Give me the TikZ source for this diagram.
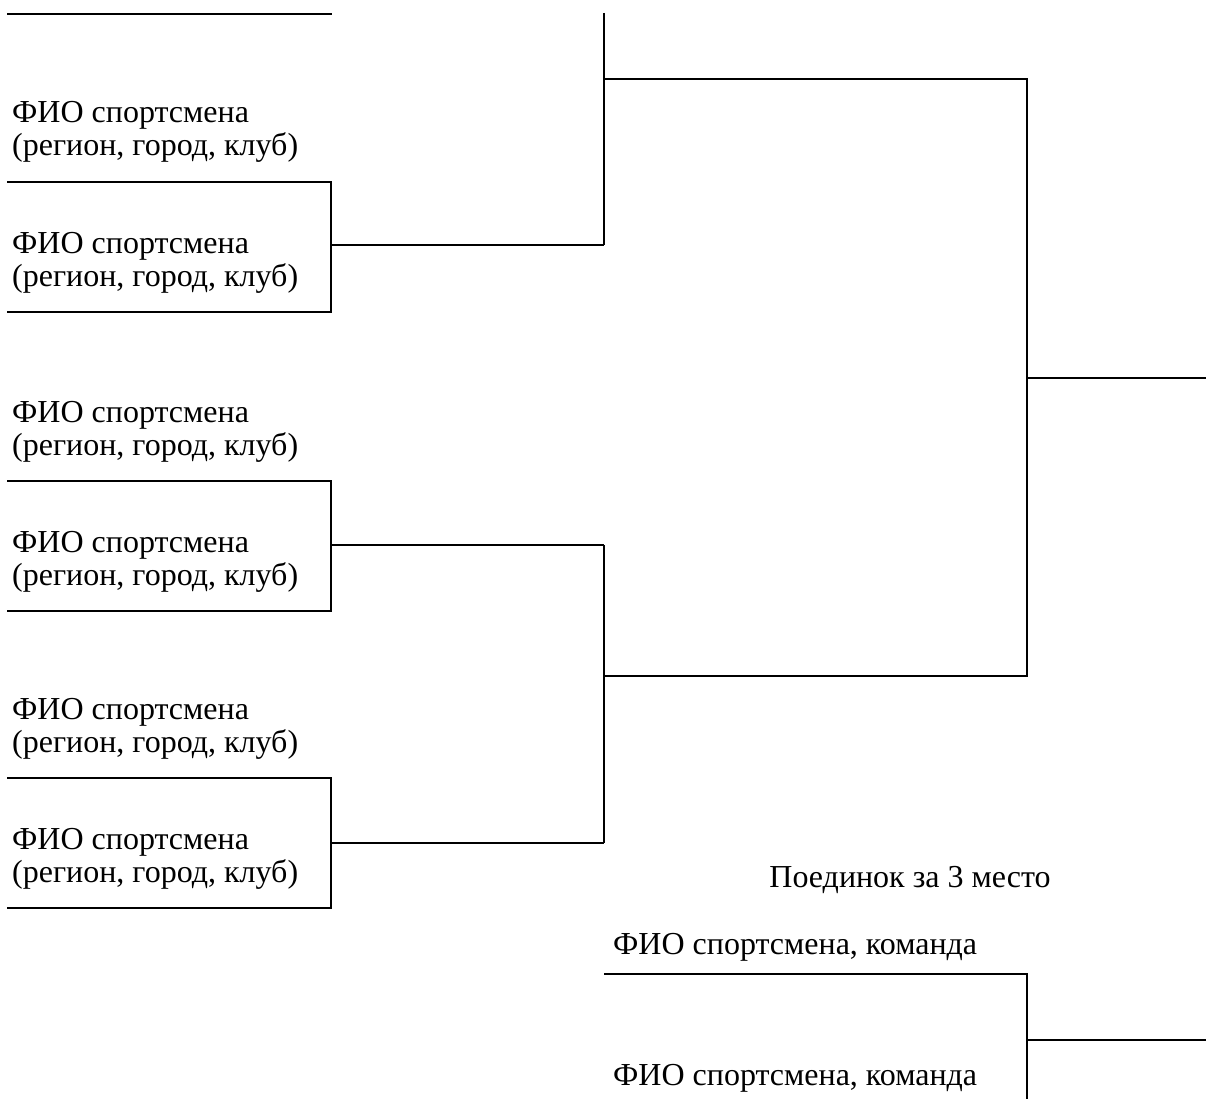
\documentclass[tikz,border=0pt]{standalone}
\usepackage{fontspec}
\setmainfont{Liberation Serif}
\begin{document}
\begin{tikzpicture}[x=1pt,y=-1pt,
  lbl/.style={anchor=base west,inner sep=0pt,font=\fontsize{32}{34}\selectfont},
  ttl/.style={anchor=base,inner sep=0pt,font=\fontsize{32}{34}\selectfont},
  ln/.style={line width=2pt}]
\useasboundingbox (0,0) rectangle (1206,1099);
% names
\foreach \i/\y in {1/123,2/253,3/422,4/552,5/719,6/849}{
  \node[lbl] (n\i) at (12,\y) {ФИО спортсмена};
  \node[lbl] (r\i) at (12,\y+33) {(регион, город, клуб)};
}
% bracket coordinates
\coordinate (t0a) at (7,14);
\coordinate (t0b) at (332,14);
\foreach \k/\a/\b in {1/182/312,2/481/611,3/778/908}{
  \coordinate (a\k) at (7,\a);
  \coordinate (ac\k) at (331,\a);
  \coordinate (b\k) at (7,\b);
  \coordinate (bc\k) at (331,\b);
}
\coordinate (m1) at (331,245);
\coordinate (m2) at (331,545);
\coordinate (m3) at (331,843);
\coordinate (q1) at (604,245);
\coordinate (q2) at (604,545);
\coordinate (q3) at (604,843);
\coordinate (q0) at (604,13);
\coordinate (s1) at (604,79);
\coordinate (s2) at (604,676);
\coordinate (f1) at (1027,79);
\coordinate (f2) at (1027,676);
\coordinate (fm) at (1027,378);
\coordinate (win) at (1206,378);
% lines
\draw[ln] (t0a) -- (t0b);
\foreach \k in {1,2,3}{
  \draw[ln] (a\k) -- (ac\k) -- (bc\k) -- (b\k);
  \draw[ln] (m\k) -- (q\k);
}
\draw[ln] (q0) -- (q1);
\draw[ln] (q2) -- (q3);
\draw[ln] (s1) -- (f1) -- (f2) -- (s2);
\draw[ln] (fm) -- (win);
% third place
\node[ttl] (title) at (910,887) {Поединок за 3 место};
\node[lbl] (p1) at (613,954) {ФИО спортсмена, команда};
\node[lbl] (p2) at (613,1085) {ФИО спортсмена, команда};
\coordinate (p1a) at (604,974);
\coordinate (p1b) at (1027,974);
\coordinate (p2b) at (1027,1099);
\coordinate (pm) at (1027,1040);
\coordinate (pw) at (1206,1040);
\draw[ln] (p1a) -- (p1b) -- (p2b);
\draw[ln] (pm) -- (pw);
\end{tikzpicture}
\end{document}
